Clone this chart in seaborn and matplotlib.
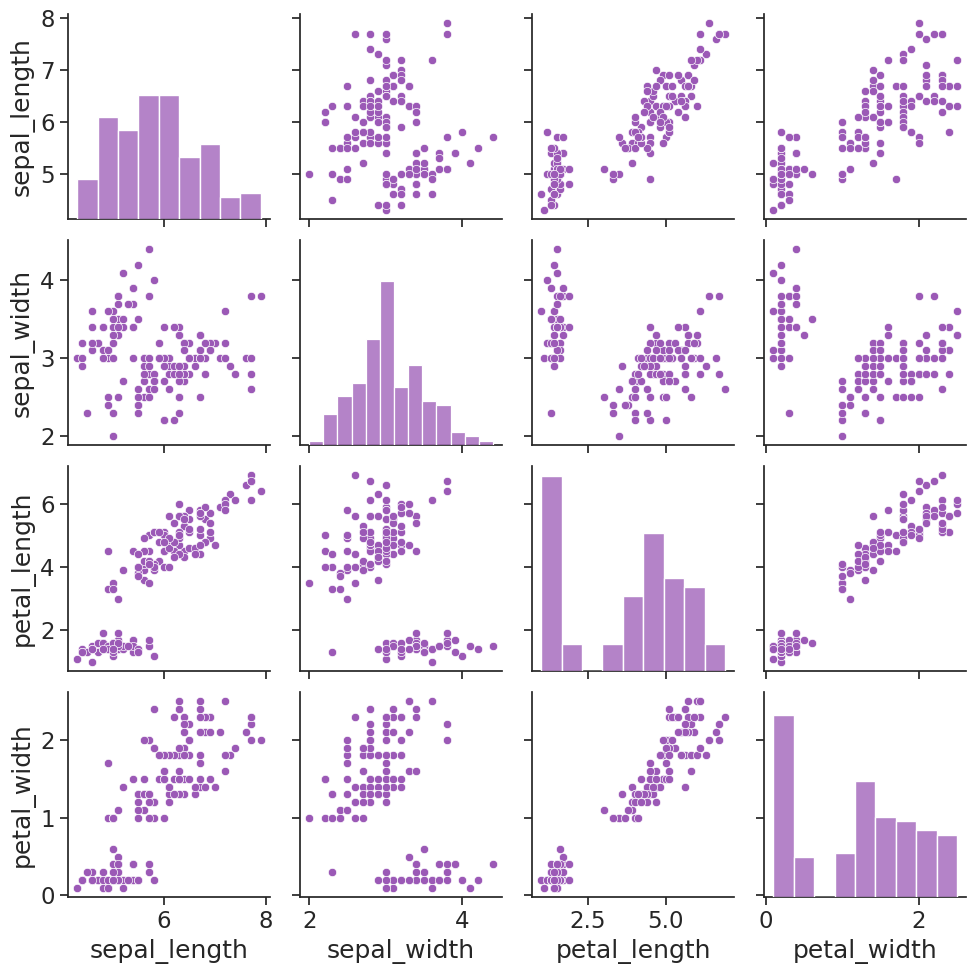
import pandas as pd
import seaborn as sns
import matplotlib
matplotlib.use("Agg")
import matplotlib.pyplot as plt

# iris measurements, row by row (setosa, versicolor, virginica)
sepal_length = [
    5.1, 4.9, 4.7, 4.6, 5.0, 5.4, 4.6, 5.0, 4.4, 4.9, 5.4, 4.8, 4.8, 4.3, 5.8, 5.7, 5.4, 5.1, 5.7, 5.1,
    5.4, 5.1, 4.6, 5.1, 4.8, 5.0, 5.0, 5.2, 5.2, 4.7, 4.8, 5.4, 5.2, 5.5, 4.9, 5.0, 5.5, 4.9, 4.4, 5.1,
    5.0, 4.5, 4.4, 5.0, 5.1, 4.8, 5.1, 4.6, 5.3, 5.0,
    7.0, 6.4, 6.9, 5.5, 6.5, 5.7, 6.3, 4.9, 6.6, 5.2, 5.0, 5.9, 6.0, 6.1, 5.6, 6.7, 5.6, 5.8, 6.2, 5.6,
    5.9, 6.1, 6.3, 6.1, 6.4, 6.6, 6.8, 6.7, 6.0, 5.7, 5.5, 5.5, 5.8, 6.0, 5.4, 6.0, 6.7, 6.3, 5.6, 5.5,
    5.5, 6.1, 5.8, 5.0, 5.6, 5.7, 5.7, 6.2, 5.1, 5.7,
    6.3, 5.8, 7.1, 6.3, 6.5, 7.6, 4.9, 7.3, 6.7, 7.2, 6.5, 6.4, 6.8, 5.7, 5.8, 6.4, 6.5, 7.7, 7.7, 6.0,
    6.9, 5.6, 7.7, 6.3, 6.7, 7.2, 6.2, 6.1, 6.4, 7.2, 7.4, 7.9, 6.4, 6.3, 6.1, 7.7, 6.3, 6.4, 6.0, 6.9,
    6.7, 6.9, 5.8, 6.8, 6.7, 6.7, 6.3, 6.5, 6.2, 5.9,
]
sepal_width = [
    3.5, 3.0, 3.2, 3.1, 3.6, 3.9, 3.4, 3.4, 2.9, 3.1, 3.7, 3.4, 3.0, 3.0, 4.0, 4.4, 3.9, 3.5, 3.8, 3.8,
    3.4, 3.7, 3.6, 3.3, 3.4, 3.0, 3.4, 3.5, 3.4, 3.2, 3.1, 3.4, 4.1, 4.2, 3.1, 3.2, 3.5, 3.6, 3.0, 3.4,
    3.5, 2.3, 3.2, 3.5, 3.8, 3.0, 3.8, 3.2, 3.7, 3.3,
    3.2, 3.2, 3.1, 2.3, 2.8, 2.8, 3.3, 2.4, 2.9, 2.7, 2.0, 3.0, 2.2, 2.9, 2.9, 3.1, 3.0, 2.7, 2.2, 2.5,
    3.2, 2.8, 2.5, 2.8, 2.9, 3.0, 2.8, 3.0, 2.9, 2.6, 2.4, 2.4, 2.7, 2.7, 3.0, 3.4, 3.1, 2.3, 3.0, 2.5,
    2.6, 3.0, 2.6, 2.3, 2.7, 3.0, 2.9, 2.9, 2.5, 2.8,
    3.3, 2.7, 3.0, 2.9, 3.0, 3.0, 2.5, 2.9, 2.5, 3.6, 3.2, 2.7, 3.0, 2.5, 2.8, 3.2, 3.0, 3.8, 2.6, 2.2,
    3.2, 2.8, 2.8, 2.7, 3.3, 3.2, 2.8, 3.0, 2.8, 3.0, 2.8, 3.8, 2.8, 2.8, 2.6, 3.0, 3.4, 3.1, 3.0, 3.1,
    3.1, 3.1, 2.7, 3.2, 3.3, 3.0, 2.5, 3.0, 3.4, 3.0,
]
petal_length = [
    1.4, 1.4, 1.3, 1.5, 1.4, 1.7, 1.4, 1.5, 1.4, 1.5, 1.5, 1.6, 1.4, 1.1, 1.2, 1.5, 1.3, 1.4, 1.7, 1.5,
    1.7, 1.5, 1.0, 1.7, 1.9, 1.6, 1.6, 1.5, 1.4, 1.6, 1.6, 1.5, 1.5, 1.4, 1.5, 1.2, 1.3, 1.4, 1.3, 1.5,
    1.3, 1.3, 1.3, 1.6, 1.9, 1.4, 1.6, 1.4, 1.5, 1.4,
    4.7, 4.5, 4.9, 4.0, 4.6, 4.5, 4.7, 3.3, 4.6, 3.9, 3.5, 4.2, 4.0, 4.7, 3.6, 4.4, 4.5, 4.1, 4.5, 3.9,
    4.8, 4.0, 4.9, 4.7, 4.3, 4.4, 4.8, 5.0, 4.5, 3.5, 3.8, 3.7, 3.9, 5.1, 4.5, 4.5, 4.7, 4.4, 4.1, 4.0,
    4.4, 4.6, 4.0, 3.3, 4.2, 4.2, 4.2, 4.3, 3.0, 4.1,
    6.0, 5.1, 5.9, 5.6, 5.8, 6.6, 4.5, 6.3, 5.8, 6.1, 5.1, 5.3, 5.5, 5.0, 5.1, 5.3, 5.5, 6.7, 6.9, 5.0,
    5.7, 4.9, 6.7, 4.9, 5.7, 6.0, 4.8, 4.9, 5.6, 5.8, 6.1, 6.4, 5.6, 5.1, 5.6, 6.1, 5.6, 5.5, 4.8, 5.4,
    5.6, 5.1, 5.1, 5.9, 5.7, 5.2, 5.0, 5.2, 5.4, 5.1,
]
petal_width = [
    0.2, 0.2, 0.2, 0.2, 0.2, 0.4, 0.3, 0.2, 0.2, 0.1, 0.2, 0.2, 0.1, 0.1, 0.2, 0.4, 0.4, 0.3, 0.3, 0.3,
    0.2, 0.4, 0.2, 0.5, 0.2, 0.2, 0.4, 0.2, 0.2, 0.2, 0.2, 0.4, 0.1, 0.2, 0.2, 0.2, 0.2, 0.1, 0.2, 0.2,
    0.3, 0.3, 0.2, 0.6, 0.4, 0.3, 0.2, 0.2, 0.2, 0.2,
    1.4, 1.5, 1.5, 1.3, 1.5, 1.3, 1.6, 1.0, 1.3, 1.4, 1.0, 1.5, 1.0, 1.4, 1.3, 1.4, 1.5, 1.0, 1.5, 1.1,
    1.8, 1.3, 1.5, 1.2, 1.3, 1.4, 1.4, 1.7, 1.5, 1.0, 1.1, 1.0, 1.2, 1.6, 1.5, 1.6, 1.5, 1.3, 1.3, 1.3,
    1.2, 1.4, 1.2, 1.0, 1.3, 1.2, 1.3, 1.3, 1.1, 1.3,
    2.5, 1.9, 2.1, 1.8, 2.2, 2.1, 1.7, 1.8, 1.8, 2.5, 2.0, 1.9, 2.1, 2.0, 2.4, 2.3, 1.8, 2.2, 2.3, 1.5,
    2.3, 2.0, 2.0, 1.8, 2.1, 1.8, 1.8, 1.8, 2.1, 1.6, 1.9, 2.0, 2.2, 1.5, 1.4, 2.3, 2.4, 1.8, 1.8, 2.1,
    2.4, 2.3, 1.9, 2.3, 2.5, 2.3, 1.9, 2.0, 2.3, 1.8,
]

df = pd.DataFrame({
    'sepal_length': sepal_length,
    'sepal_width': sepal_width,
    'petal_length': petal_length,
    'petal_width': petal_width,
})

sns.set_theme(style="ticks", font_scale=1.5)
purple = "#9b59b6"

g = sns.pairplot(df, height=2.5,
                 plot_kws={'color': purple},
                 diag_kws={'color': purple})

g.figure.set_size_inches(9.75, 9.74)
g.figure.subplots_adjust(left=0.0697, right=0.991, top=0.9856, bottom=0.079,
                         wspace=0.148, hspace=0.10)
plt.savefig('out.png', dpi=100)
